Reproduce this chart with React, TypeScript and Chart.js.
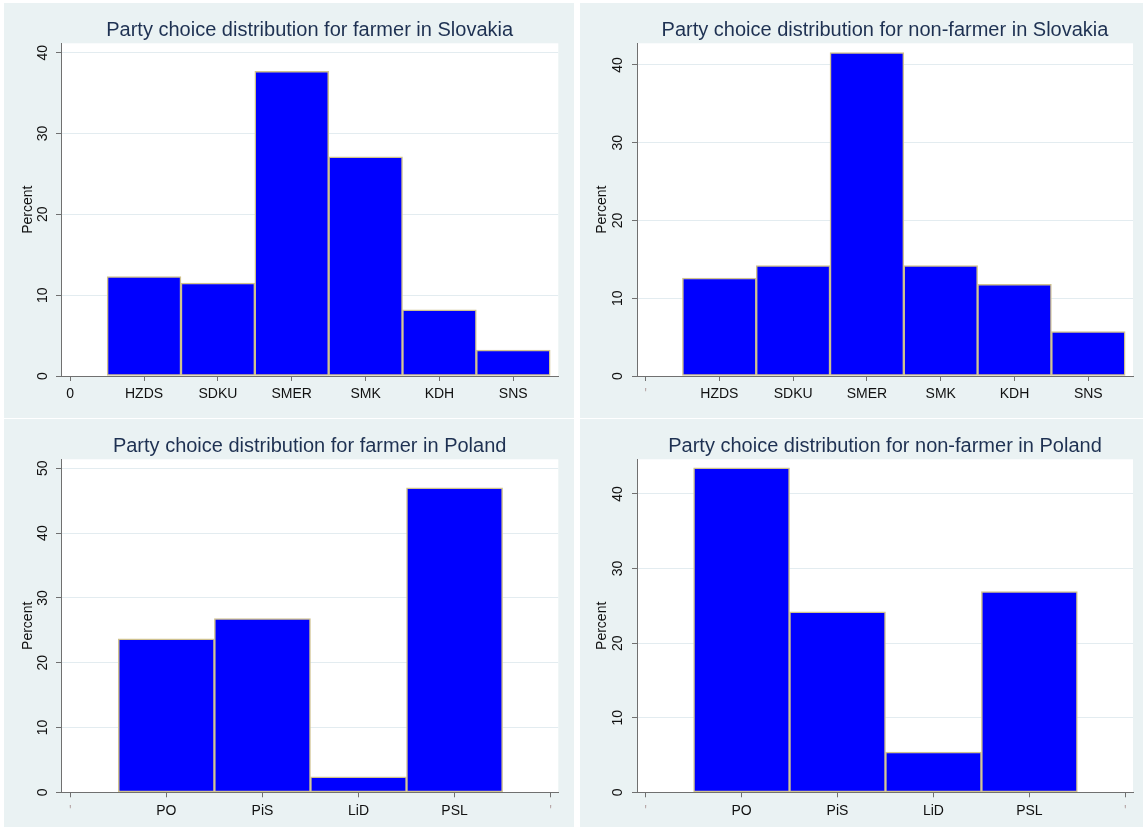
import React, { useEffect, useRef } from 'react';
import { Chart, registerables } from 'chart.js';

Chart.register(...registerables);

// ---------- data ----------
const slovakiaParties = ['HZDS', 'SDKU', 'SMER', 'SMK', 'KDH', 'SNS'];
const polandParties = ['PO', 'PiS', 'LiD', 'PSL'];

const slovakiaFarmerPct = [12.3, 11.5, 37.7, 27.1, 8.2, 3.2];
const slovakiaNonFarmerPct = [12.6, 14.2, 41.6, 14.2, 11.8, 5.7];
const polandFarmerPct = [23.7, 26.8, 2.4, 47.0];
const polandNonFarmerPct = [43.5, 24.2, 5.4, 26.9];

const slovakiaFarmerXLabels = ['0', ...slovakiaParties];
const slovakiaNonFarmerXLabels = ["'", ...slovakiaParties];
const polandXLabels = ["'", ...polandParties, "'"];

const yTicks40 = [0, 10, 20, 30, 40];
const yTicks50 = [0, 10, 20, 30, 40, 50];

const titles = [
  'Party choice distribution for farmer in Slovakia',
  'Party choice distribution for non-farmer in Slovakia',
  'Party choice distribution for farmer in Poland',
  'Party choice distribution for non-farmer in Poland',
];
const yAxisTitle = 'Percent';

// ---------- styles ----------
const FONT = "'Liberation Sans', Arial, Helvetica, sans-serif";
const PANEL_BG = '#eaf2f3';
const GRID = '#e3ecf0';
const AXIS = '#707070';
const BAR_FILL = '#0000ff';
const BAR_EDGE = '#cfc18e';
const TITLE_COLOR = '#1e3152';
const TEXT = '#111111';

type PanelCfg = {
  left: number;
  top: number;
  w: number;
  h: number;
  title: string;
  xLabels: string[];
  values: number[];
  xMin: number;
  xMax: number;
  yMax: number;
  yTicks: number[];
  rightPad: number;
  xAxisH: number;
  yLabelX: number;
  yTitlePad: number;
};

const panels: PanelCfg[] = [
  {
    left: 4, top: 3, w: 570, h: 415, title: titles[0],
    xLabels: slovakiaFarmerXLabels, values: slovakiaFarmerPct,
    xMin: -0.125, xMax: 6.61, yMax: 41.16, yTicks: yTicks40,
    rightPad: 15.7, xAxisH: 42, yLabelX: 39, yTitlePad: 15.6,
  },
  {
    left: 580, top: 3, w: 563, h: 415, title: titles[1],
    xLabels: slovakiaNonFarmerXLabels, values: slovakiaNonFarmerPct,
    xMin: -0.116, xMax: 6.606, yMax: 42.79, yTicks: yTicks40,
    rightPad: 10, xAxisH: 42, yLabelX: 38, yTitlePad: 14.1,
  },
  {
    left: 4, top: 419, w: 570, h: 408, title: titles[2],
    xLabels: polandXLabels, values: polandFarmerPct,
    xMin: -0.097, xMax: 5.08, yMax: 51.39, yTicks: yTicks50,
    rightPad: 15.7, xAxisH: 34.7, yLabelX: 39, yTitlePad: 15.6,
  },
  {
    left: 580, top: 419, w: 563, h: 408, title: titles[3],
    xLabels: polandXLabels, values: polandNonFarmerPct,
    xMin: -0.09, xMax: 5.08, yMax: 44.65, yTicks: yTicks40,
    rightPad: 10, xAxisH: 34.7, yLabelX: 38, yTitlePad: 14.1,
  },
];

function Panel({ cfg }: { cfg: PanelCfg }) {
  const ref = useRef<HTMLCanvasElement>(null);

  useEffect(() => {
    const labels = cfg.xLabels;
    const plotBg = {
      id: 'plotBg',
      beforeDraw(chart: any) {
        const { ctx, chartArea } = chart;
        ctx.save();
        ctx.fillStyle = '#ffffff';
        ctx.fillRect(chartArea.left, chartArea.top, chartArea.right - chartArea.left, chartArea.bottom - chartArea.top);
        ctx.restore();
      },
    };
    const yLabels = {
      id: 'yLabels',
      afterDraw(chart: any) {
        const s = chart.scales.y;
        const ctx = chart.ctx;
        ctx.save();
        ctx.font = `14px ${FONT}`;
        ctx.fillStyle = TEXT;
        ctx.textAlign = 'center';
        ctx.textBaseline = 'middle';
        for (const t of s.ticks) {
          const y = s.getPixelForValue(t.value);
          ctx.save();
          ctx.translate(cfg.yLabelX, y);
          ctx.rotate(-Math.PI / 2);
          ctx.fillText(String(t.value), 0, 0);
          ctx.restore();
        }
        ctx.restore();
      },
    };

    const chart = new Chart(ref.current as HTMLCanvasElement, {
      type: 'bar',
      data: {
        datasets: [
          {
            data: cfg.values.map((v, i) => ({ x: i + 1, y: v })),
            backgroundColor: BAR_FILL,
            borderColor: BAR_EDGE,
            borderWidth: 1.5,
            borderSkipped: false,
            barPercentage: 1,
            categoryPercentage: 1,
          } as any,
        ],
      },
      options: {
        responsive: false,
        animation: false,
        events: [],
        layout: { padding: { left: 0, right: cfg.rightPad, top: 0, bottom: 0 } },
        plugins: {
          legend: { display: false },
          tooltip: { enabled: false },
          title: {
            display: true,
            text: cfg.title,
            fullSize: false,
            color: TITLE_COLOR,
            font: { family: FONT, size: 20, weight: 'normal' },
            padding: { top: 15.5, bottom: 0.8 },
          },
        },
        scales: {
          x: {
            type: 'linear',
            min: cfg.xMin,
            max: cfg.xMax,
            offset: false,
            z: 1,
            grid: {
              offset: false,
              drawOnChartArea: false,
              drawTicks: true,
              tickLength: 5,
              tickColor: AXIS,
              color: AXIS,
            },
            border: { display: true, color: AXIS, width: 1 },
            ticks: {
              padding: 5,
              autoSkip: false,
              maxRotation: 0,
              minRotation: 0,
              font: { family: FONT, size: 14 },
              color: (ctx: any) => (labels[Math.round(ctx.tick?.value ?? 0)] === "'" ? '#b8a8a8' : TEXT),
              callback: (v: any) => labels[Math.round(Number(v))] ?? '',
            },
            afterBuildTicks: (s: any) => {
              s.ticks = labels.map((_, i) => ({ value: i }));
            },
            afterFit: (s: any) => {
              s.height = cfg.xAxisH;
            },
          } as any,
          y: {
            type: 'linear',
            min: 0,
            max: cfg.yMax,
            grid: {
              color: GRID,
              lineWidth: 1,
              drawTicks: true,
              tickLength: 5,
              tickColor: AXIS,
            },
            border: { display: true, color: AXIS, width: 1 },
            ticks: { display: false },
            afterBuildTicks: (s: any) => {
              s.ticks = cfg.yTicks.map((v) => ({ value: v }));
            },
            afterFit: (s: any) => {
              s.width = 57;
            },
            title: {
              display: true,
              text: yAxisTitle,
              color: TEXT,
              font: { family: FONT, size: 14 },
              padding: { top: cfg.yTitlePad, bottom: 0 },
            },
          } as any,
        },
      },
      plugins: [plotBg, yLabels],
    });
    return () => chart.destroy();
  }, [cfg]);

  return (
    <div
      style={{
        position: 'absolute',
        left: cfg.left,
        top: cfg.top,
        width: cfg.w,
        height: cfg.h,
        background: PANEL_BG,
      }}
    >
      <canvas ref={ref} width={cfg.w} height={cfg.h} style={{ display: 'block', width: cfg.w, height: cfg.h }} />
    </div>
  );
}

export default function App() {
  return (
    <div
      style={{
        position: 'fixed',
        left: 0,
        top: 0,
        width: 1146,
        height: 830,
        background: '#ffffff',
        overflow: 'hidden',
      }}
    >
      {panels.map((p, i) => (
        <Panel key={i} cfg={p} />
      ))}
    </div>
  );
}
